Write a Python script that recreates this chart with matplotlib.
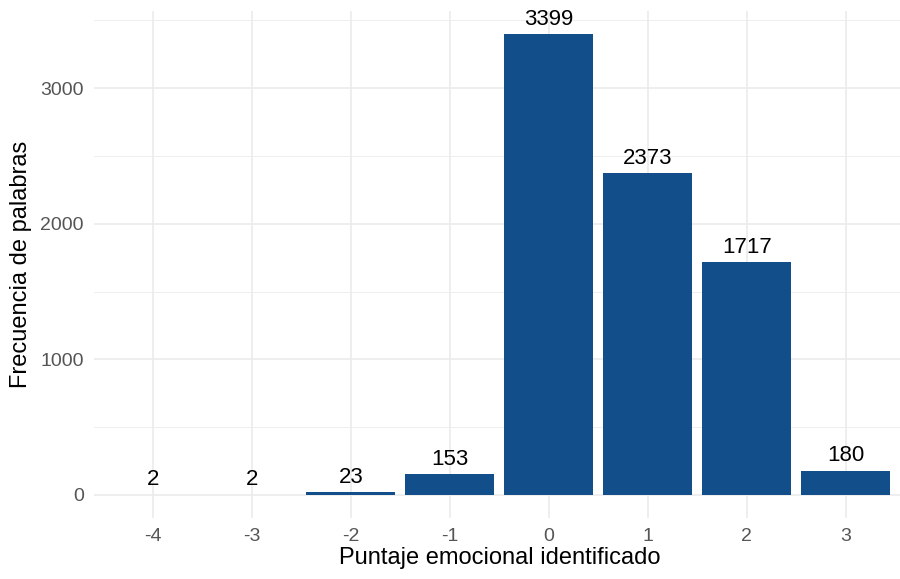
import matplotlib
matplotlib.use("Agg")
from matplotlib import pyplot as plt
from matplotlib.ticker import MultipleLocator

plt.rcParams['font.family'] = ['Liberation Sans', 'DejaVu Sans']

puntajes = [-4, -3, -2, -1, 0, 1, 2, 3]
frecuencias = [2, 2, 23, 153, 3399, 2373, 1717, 180]
etiquetas = [str(p) for p in puntajes]

fig = plt.figure(figsize=(9, 5.79), dpi=100)
ax = fig.add_axes([0.104, 0.1054, 0.9016, 0.8756])

pos = list(range(len(puntajes)))
ax.bar(pos, frecuencias, width=0.9, color='#124E89', zorder=2)
for x, v in zip(pos, frecuencias):
    ax.annotate(str(v), (x, v), xytext=(0, 3), textcoords='offset points',
                ha='center', va='bottom', fontsize=16, color='black',
                annotation_clip=False)

ax.set_xlim(-0.6, len(puntajes) - 0.4)
ax.set_ylim(-170, 3399 * 1.05)
ax.set_xticks(pos)
ax.set_xticklabels(etiquetas)
ax.yaxis.set_major_locator(MultipleLocator(1000))
ax.yaxis.set_minor_locator(MultipleLocator(500))

ax.grid(True, which='major', color='#ebebeb', linewidth=1.2, zorder=0)
ax.grid(True, which='minor', axis='y', color='#ebebeb', linewidth=0.6, zorder=0)
for s in ax.spines.values():
    s.set_visible(False)
ax.tick_params(which='both', length=0, labelsize=14, labelcolor='#555555')
ax.tick_params(axis='x', pad=7)
ax.tick_params(axis='y', pad=7)

ax.set_xlabel('Puntaje emocional identificado', fontsize=17, labelpad=2)
ax.set_ylabel('Frecuencia de palabras', fontsize=17, labelpad=6)

fig.savefig('out.png', dpi=100)
